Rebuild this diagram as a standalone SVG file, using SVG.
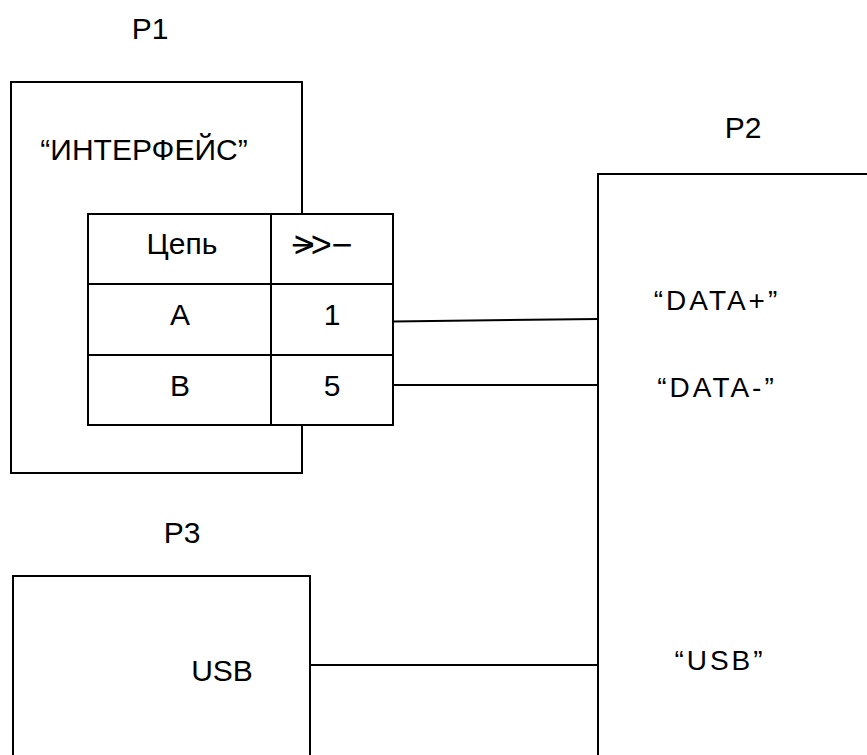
<svg xmlns="http://www.w3.org/2000/svg" width="867" height="755" viewBox="0 0 867 755">
<style>
.box{fill:#fff;stroke:#000;stroke-width:2}
.ln{stroke:#000;stroke-width:2;fill:none}
.t{font-family:"Liberation Sans",Arial,sans-serif;font-size:30px;fill:#000;text-anchor:middle}
.r{font-family:"Liberation Sans",Arial,sans-serif;font-size:28px;fill:#000;text-anchor:middle;letter-spacing:3px}
.s{font-family:"Liberation Sans",Arial,sans-serif;font-size:36px;fill:#000}
</style>
<rect width="867" height="755" fill="#fff"/>
<g id="P1">
<text class="t" x="150" y="39">P1</text>
<rect class="box" x="11" y="82" width="291" height="391"/>
<text class="t" x="144" y="160">“ИНТЕРФЕЙС”</text>
</g>
<g id="table">
<rect class="box" x="88" y="214" width="305" height="211"/>
<line class="ln" x1="271" y1="214" x2="271" y2="425"/>
<line class="ln" x1="88" y1="284" x2="393" y2="284"/>
<line class="ln" x1="88" y1="355" x2="393" y2="355"/>
<text class="t" x="182" y="254">Цепь</text>
<text class="s" x="291 293.7 310.7 331.6" y="257">−&gt;&gt;−</text>
<text class="t" x="180" y="325">A</text>
<text class="t" x="332" y="325">1</text>
<text class="t" x="180" y="396">B</text>
<text class="t" x="332" y="396">5</text>
</g>
<g id="P2">
<text class="t" x="743" y="138">P2</text>
<rect class="box" x="598" y="174" width="320" height="620"/>
<text class="r" x="717" y="310">“DATA+”</text>
<text class="r" x="717" y="397">“DATA-”</text>
<text class="r" x="720" y="670">“USB”</text>
</g>
<g id="P3">
<text class="t" x="182" y="543">P3</text>
<rect class="box" x="13" y="576" width="297" height="220"/>
<text class="t" x="222" y="681">USB</text>
</g>
<g id="connectors">
<line class="ln" x1="393" y1="321.5" x2="598" y2="319"/>
<line class="ln" x1="393" y1="385" x2="598" y2="385"/>
<line class="ln" x1="310" y1="665" x2="598" y2="665"/>
</g>
</svg>
